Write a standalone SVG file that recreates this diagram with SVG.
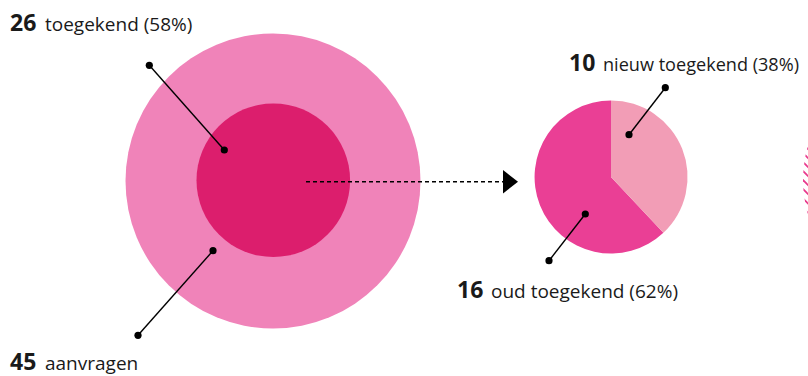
<svg xmlns="http://www.w3.org/2000/svg" width="808" height="376" viewBox="0 0 808 376">
  <style>
    .num { font-family: "Open Sans", "Liberation Sans", sans-serif; font-weight: 700; font-size: 23px; fill: #1a1a1a; }
    .lbl { font-family: "Open Sans", "Liberation Sans", sans-serif; font-weight: 400; font-size: 19px; fill: #1a1a1a; }
    .leader { stroke: #000; stroke-width: 1.4; fill: none; }
    .dot { fill: #000; }
    .hatch { stroke: #E8388C; stroke-width: 1.6; }
  </style>
  <defs>
    <clipPath id="hatchClip">
      <circle cx="925" cy="180" r="122"/>
    </clipPath>
  </defs>
  <rect width="808" height="376" fill="#ffffff"/>

  <g id="aanvragen">
    <circle cx="273" cy="181" r="147.5" fill="#F083B9"/>
  </g>
  <g id="toegekend">
    <circle cx="273.3" cy="180.3" r="76.8" fill="#DC1E6D"/>
  </g>
  <g id="pie">
    <path d="M611,177 L663.4,232.8 A76.5,76.5 0 1,1 611,100.5 Z" fill="#EA3F95"/>
    <path d="M611,177 L611,100.5 A76.5,76.5 0 0,1 663.4,232.8 Z" fill="#F29DB6"/>
  </g>
  <g id="hatched">
    <g clip-path="url(#hatchClip)">
      <line class="hatch" x1="795" y1="136" x2="815" y2="156"/>
      <line class="hatch" x1="795" y1="145" x2="815" y2="165"/>
      <line class="hatch" x1="795" y1="154" x2="815" y2="174"/>
      <line class="hatch" x1="795" y1="163" x2="815" y2="183"/>
      <line class="hatch" x1="795" y1="172" x2="815" y2="192"/>
      <line class="hatch" x1="795" y1="181" x2="815" y2="201"/>
      <line class="hatch" x1="795" y1="190.5" x2="815" y2="210.5"/>
      <line class="hatch" x1="795" y1="200" x2="815" y2="220"/>
      <line class="hatch" x1="795" y1="209" x2="815" y2="229"/>
    </g>
  </g>

  <g id="connectors">
    <line x1="306" y1="181.7" x2="503" y2="181.7" stroke="#000" stroke-width="1.4" stroke-dasharray="4 3"/>
    <polygon points="503,170 518,181.7 503,193.4" fill="#000"/>
    <line class="leader" x1="149.3" y1="65.3" x2="224.3" y2="150"/>
    <circle class="dot" cx="149.3" cy="65.3" r="3.6"/>
    <circle class="dot" cx="224.3" cy="150" r="3.6"/>
    <line class="leader" x1="213" y1="250.7" x2="138" y2="335.3"/>
    <circle class="dot" cx="213" cy="250.7" r="3.6"/>
    <circle class="dot" cx="138" cy="335.3" r="3.6"/>
    <line class="leader" x1="665.3" y1="87.7" x2="629" y2="134.7"/>
    <circle class="dot" cx="665.3" cy="87.7" r="3.6"/>
    <circle class="dot" cx="629" cy="134.7" r="3.6"/>
    <line class="leader" x1="585.3" y1="214" x2="549" y2="260.7"/>
    <circle class="dot" cx="585.3" cy="214" r="3.6"/>
    <circle class="dot" cx="549" cy="260.7" r="3.6"/>
  </g>

  <g id="label-toegekend">
    <text class="num" x="10" y="31">26</text>
    <text class="lbl" x="45" y="31">toegekend (58%)</text>
  </g>
  <g id="label-aanvragen">
    <text class="num" x="10" y="370">45</text>
    <text class="lbl" x="45" y="370">aanvragen</text>
  </g>
  <g id="label-nieuw">
    <text class="num" x="569" y="71">10</text>
    <text class="lbl" x="603" y="71" textLength="196" lengthAdjust="spacingAndGlyphs">nieuw toegekend (38%)</text>
  </g>
  <g id="label-oud">
    <text class="num" x="457" y="298">16</text>
    <text class="lbl" x="491" y="298">oud toegekend (62%)</text>
  </g>
</svg>
